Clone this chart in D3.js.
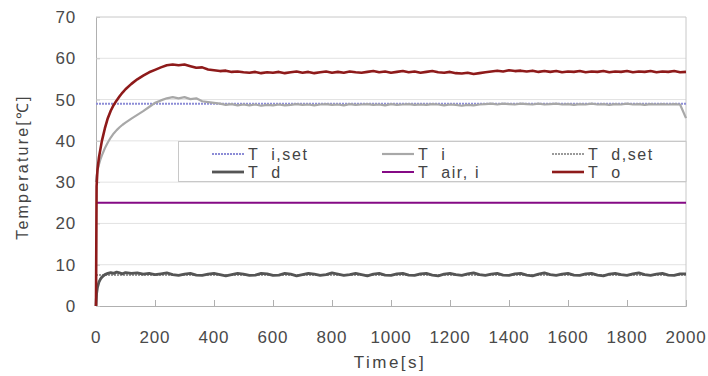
<!DOCTYPE html>
<html>
<head>
<meta charset="utf-8">
<script src="https://cdn.jsdelivr.net/npm/d3@7"></script>
<style>
  body { margin: 0; background: #fff; }
  svg { font-family: "Liberation Sans", Arial, sans-serif; }
  .tick-label { fill: #4a4a4a; font-size: 17px; letter-spacing: 0.8px; }
  .legend-text { fill: #444; font-size: 16px; letter-spacing: 1.6px; white-space: pre; }
</style>
</head>
<body>
<div class="chart"></div>
<script>
// time axis [s]
var time = [0, 2, 5, 10, 15, 20, 30, 40, 50, 60, 70, 80, 90,
  100, 120, 140, 160, 180, 200, 220, 240, 260, 280, 300, 320, 340, 360, 380, 400, 420, 440, 460, 480, 500,
  520, 540, 560, 580, 600, 620, 640, 660, 680, 700,
  720, 740, 760, 780, 800, 820, 840, 860, 880, 900,
  920, 940, 960, 980, 1000, 1020, 1040, 1060, 1080, 1100,
  1120, 1140, 1160, 1180, 1200, 1220, 1240, 1260, 1280, 1300,
  1320, 1340, 1360, 1380, 1400, 1420, 1440, 1460, 1480, 1500,
  1520, 1540, 1560, 1580, 1600, 1620, 1640, 1660, 1680, 1700,
  1720, 1740, 1760, 1780, 1800, 1820, 1840, 1860, 1880, 1900,
  1920, 1940, 1960, 1980, 2000];

var tO = [0, 29, 33, 36, 38, 40, 43, 45.5, 47.3, 48.7, 49.8, 50.8, 51.7,
  52.5, 53.8, 54.9, 55.8, 56.6, 57.2, 57.8, 58.3, 58.5, 58.3, 58.5, 58.1, 57.7, 57.8, 57.3, 57.1, 56.9, 57.0, 56.7, 56.8, 56.6,
  56.5, 56.7, 56.4, 56.6, 56.5, 56.7, 56.4, 56.6, 56.8, 56.5,
  56.7, 56.4, 56.6, 56.8, 56.5, 56.7, 56.5, 56.8, 56.6, 56.5,
  56.7, 56.9, 56.6, 56.8, 56.5, 56.7, 56.9, 56.6, 56.8, 56.5,
  56.7, 56.9, 56.6, 56.5, 56.7, 56.4, 56.3, 56.5, 56.2, 56.4,
  56.6, 56.8, 57.0, 56.8, 57.1, 56.9, 57.0, 56.8, 57.0, 56.7,
  56.9, 56.7, 56.9, 56.6, 56.8, 56.7, 56.9, 56.6, 56.8, 56.7,
  56.9, 56.6, 56.8, 56.7, 56.9, 56.6, 56.8, 56.7, 56.9, 56.6,
  56.8, 56.7, 56.9, 56.6, 56.7];

var tI = [30, 31.5, 32.8, 34.3, 35.5, 36.5, 38.2, 39.6, 40.8, 41.8, 42.6, 43.3, 43.9,
  44.4, 45.4, 46.3, 47.2, 48.2, 49.2, 49.8, 50.3, 50.6, 50.3, 50.6, 50.1, 50.3, 49.6, 49.4, 49.2, 49.0, 48.7, 48.9, 48.6, 48.8,
  48.6, 48.8, 48.5, 48.7, 48.6, 48.8, 48.6, 48.7, 48.9, 48.7,
  48.8, 48.6, 48.8, 48.9, 48.7, 48.8, 48.6, 48.9, 48.7, 48.8,
  48.9, 48.7, 48.8, 48.6, 48.9, 48.7, 48.8, 48.9, 48.7, 48.8,
  48.7, 48.9, 48.8, 48.6, 48.8, 48.7, 48.5, 48.7, 48.6, 48.8,
  48.9, 49.0, 48.8, 49.0, 48.9, 48.8, 49.0, 48.9, 48.8, 49.0,
  48.8, 48.9, 49.0, 48.8, 48.9, 48.7, 48.9, 48.8, 49.0, 48.8,
  48.9, 48.7, 48.9, 48.8, 49.0, 48.8, 48.9, 48.7, 48.9, 48.8,
  48.9, 48.8, 48.9, 48.8, 45.5];

var tD = [0, 3, 4.5, 5.8, 6.5, 7.0, 7.6, 7.9, 8.1, 7.9, 8.2, 8.0, 7.8,
  8.1, 7.9, 8.0, 7.7, 7.9, 7.6, 7.8, 8.0, 7.6, 7.4, 7.7, 7.9, 7.5, 7.4, 7.7, 7.9, 7.6, 7.3, 7.6, 7.9, 7.7,
  7.4, 7.5, 7.9, 7.8, 7.4, 7.5, 7.9, 7.7, 7.3, 7.6,
  7.9, 7.7, 7.4, 7.6, 8.0, 7.7, 7.4, 7.6, 7.9, 7.6,
  7.3, 7.7, 7.9, 7.5, 7.4, 7.8, 7.9, 7.5, 7.4, 7.8,
  7.9, 7.5, 7.3, 7.7, 7.9, 7.6, 7.4, 7.8, 8.0, 7.6,
  7.4, 7.7, 7.9, 7.5, 7.4, 7.8, 7.9, 7.5, 7.3, 7.7,
  8.0, 7.6, 7.4, 7.7, 7.9, 7.5, 7.4, 7.8, 7.9, 7.5,
  7.3, 7.7, 7.9, 7.6, 7.4, 7.8, 8.0, 7.6, 7.4, 7.7,
  7.9, 7.5, 7.4, 7.8, 7.8];

// constant set points
var setTime = [0, 2000];
var tISet = [49, 49];
var tDSet = [7.5, 7.5];
var tAirI = [25, 25];

var xTicks = [0, 200, 400, 600, 800, 1000, 1200, 1400, 1600, 1800, 2000];
var yTicks = [0, 10, 20, 30, 40, 50, 60, 70];

var legendNames = ["T  i,set", "T  i", "T  d,set", "T  d", "T  air, i", "T  o"];

var W = 708, H = 376;
var margin = { top: 17, right: 22, bottom: 70, left: 96 },
    width = W - margin.left - margin.right,
    height = H - margin.top - margin.bottom;

var svg = d3.select('.chart')
    .append('svg')
    .attr("width", W)
    .attr("height", H);

var g = svg.append("g")
    .attr("transform", "translate(" + margin.left + "," + margin.top + ")");

var x = d3.scaleLinear().domain([0, 2000]).range([0, width]);
var y = d3.scaleLinear().domain([0, 70]).range([height, 0]);

// grid lines
g.selectAll(".grid")
    .data(yTicks.slice(1))
    .enter()
    .append("line")
    .attr("x1", 0)
    .attr("x2", width)
    .attr("y1", function(d) { return y(d); })
    .attr("y2", function(d) { return y(d); })
    .attr("stroke", function(d) { return d == 70 ? "#c8c8c8" : "#e2e2e2"; })
    .attr("stroke-width", 1);

// right border
g.append("line")
    .attr("x1", width).attr("x2", width)
    .attr("y1", 0).attr("y2", height)
    .attr("stroke", "#c8c8c8");

// axes
var xAxis = d3.axisBottom(x).tickValues(xTicks).tickSize(-6).tickFormat("");
var yAxis = d3.axisLeft(y).tickValues(yTicks).tickSize(-4).tickFormat("");

g.append("g")
    .attr("transform", "translate(0," + height + ")")
    .call(xAxis)
    .call(function(s) {
        s.select(".domain").attr("stroke", "#b0b0b0");
        s.selectAll(".tick line").attr("stroke", "#b0b0b0");
    });

g.append("g")
    .call(yAxis)
    .call(function(s) {
        s.select(".domain").attr("stroke", "#b0b0b0");
        s.selectAll(".tick line").attr("stroke", "#c8c8c8");
    });

// tick labels
g.selectAll(".xlab")
    .data(xTicks)
    .enter()
    .append("text")
    .attr("class", "tick-label")
    .attr("x", function(d) { return x(d); })
    .attr("y", height + 37)
    .attr("text-anchor", "middle")
    .text(function(d) { return d; });

g.selectAll(".ylab")
    .data(yTicks)
    .enter()
    .append("text")
    .attr("class", "tick-label")
    .attr("x", -20)
    .attr("y", function(d) { return y(d) + 6; })
    .attr("text-anchor", "end")
    .text(function(d) { return d; });

// axis titles
svg.append("text")
    .attr("x", 390)
    .attr("y", 368)
    .attr("text-anchor", "middle")
    .attr("fill", "#444")
    .style("font-size", "17px")
    .style("letter-spacing", "2.5px")
    .text("Time[s]");

svg.append("text")
    .attr("transform", "translate(28,167) rotate(-90)")
    .attr("text-anchor", "middle")
    .attr("fill", "#444")
    .style("font-size", "16px")
    .style("letter-spacing", "2.2px")
    .text("Temperature[℃]");

// series
var series = [
    { name: legendNames[0], t: setTime, v: tISet, color: "#8c8cd6", w: 2, dash: "2,1" },
    { name: legendNames[1], t: time, v: tI, color: "#a8a8a8", w: 2.2, dash: null },
    { name: legendNames[2], t: setTime, v: tDSet, color: "#9a9a9a", w: 2, dash: "2,1" },
    { name: legendNames[3], t: time, v: tD, color: "#555555", w: 2.8, dash: null },
    { name: legendNames[4], t: setTime, v: tAirI, color: "#850a85", w: 2, dash: null },
    { name: legendNames[5], t: time, v: tO, color: "#8e1a1a", w: 2.6, dash: null }
];

var line = d3.line()
    .x(function(d) { return x(d[0]); })
    .y(function(d) { return y(d[1]); });

var drawOrder = [2, 3, 4, 0, 1, 5];
drawOrder.forEach(function(i) {
    var s = series[i];
    g.append("path")
        .datum(s.t.map(function(tt, k) { return [tt, s.v[k]]; }))
        .attr("fill", "none")
        .attr("stroke", s.color)
        .attr("stroke-width", s.w)
        .attr("stroke-dasharray", s.dash)
        .attr("stroke-linejoin", "round")
        .attr("d", line);
});

// legend
var lg = svg.append("g");
lg.append("rect")
    .attr("x", 178.5)
    .attr("y", 141.5)
    .attr("width", 686 - 178.5)
    .attr("height", 40)
    .attr("fill", "#fff")
    .attr("stroke", "#c8c8c8");

var colX = [212, 382, 552];
var rowY = [154, 172];

series.forEach(function(s, i) {
    var cx = colX[i % 3], cy = rowY[Math.floor(i / 3)];
    lg.append("line")
        .attr("x1", cx).attr("x2", cx + 32)
        .attr("y1", cy).attr("y2", cy)
        .attr("stroke", s.color)
        .attr("stroke-width", s.w)
        .attr("stroke-dasharray", s.dash);
    lg.append("text")
        .attr("class", "legend-text")
        .attr("x", cx + 36)
        .attr("y", cy + 6)
        .text(s.name);
});
</script>
</body>
</html>
